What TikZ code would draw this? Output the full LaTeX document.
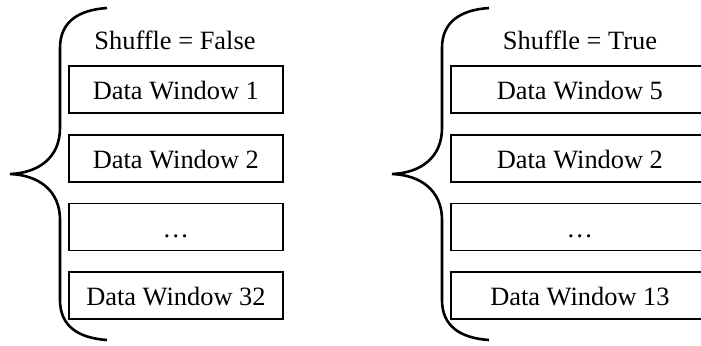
\documentclass[tikz,border=0pt]{standalone}
\usepackage{fontspec}
\setmainfont{Liberation Serif}
\usetikzlibrary{positioning}

\tikzset{
  winbox/.style={draw, line width=0.9pt, minimum height=23.5pt, inner sep=0pt,
    text height=10pt, text depth=0pt, font=\fontsize{13.2}{15}\selectfont},
  titlelabel/.style={anchor=base, inner sep=0pt, font=\fontsize{13.2}{15}\selectfont},
  bracecurve/.style={line width=1.3pt},
}

\begin{document}
\begin{tikzpicture}[x=0.5pt, y=-0.5pt]
  \useasboundingbox (0,0) rectangle (701,345);
  % Left group: shuffle off
  \node[titlelabel] (ltitle) at (175,49) {Shuffle = False};
  \node[winbox, minimum width=107pt, anchor=north west] (l1) at (68,65) {Data Window 1};
  \node[winbox, minimum width=107pt, below=10pt of l1] (l2) {Data Window 2};
  \node[winbox, minimum width=107pt, below=10pt of l2] (l3) {\ldots};
  \node[winbox, minimum width=107pt, below=10pt of l3] (l4) {Data Window 32};
  \draw[bracecurve] (107,8) .. controls (78,10) and (60,22) .. (60,48) -- (60,128)
    .. controls (60,158) and (38,173) .. (10,174)
    .. controls (38,175) and (60,190) .. (60,220) -- (60,300)
    .. controls (60,326) and (78,338) .. (107,340);
  % Right group: shuffle on
  \node[titlelabel] (rtitle) at (580,49) {Shuffle = True};
  \node[winbox, minimum width=129pt, anchor=north west] (r1) at (450,65) {Data Window 5};
  \node[winbox, minimum width=129pt, below=10pt of r1] (r2) {Data Window 2};
  \node[winbox, minimum width=129pt, below=10pt of r2] (r3) {\ldots};
  \node[winbox, minimum width=129pt, below=10pt of r3] (r4) {Data Window 13};
  \begin{scope}[xshift=191pt]
    \draw[bracecurve] (107,8) .. controls (78,10) and (60,22) .. (60,48) -- (60,128)
      .. controls (60,158) and (38,173) .. (10,174)
      .. controls (38,175) and (60,190) .. (60,220) -- (60,300)
      .. controls (60,326) and (78,338) .. (107,340);
  \end{scope}
\end{tikzpicture}
\end{document}
